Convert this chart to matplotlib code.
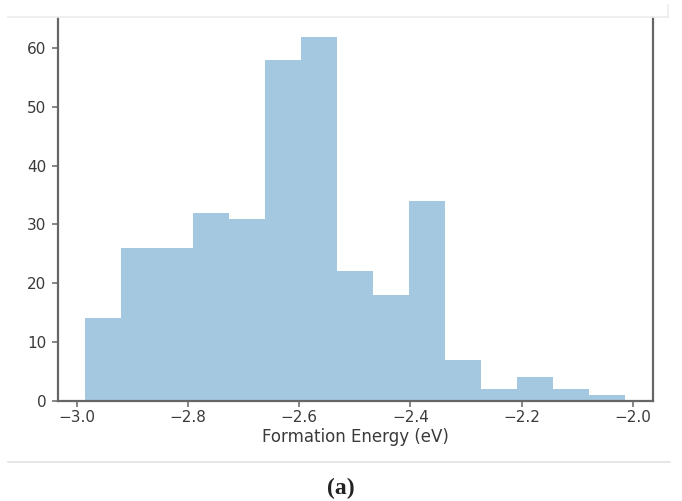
import numpy as np
import matplotlib
matplotlib.use("Agg")
import matplotlib.pyplot as plt
from matplotlib.lines import Line2D

# Histogram of formation energies: 15 equal-width bins
e_min, e_max = -2.985, -2.0135
counts = [14, 26, 26, 32, 31, 58, 62, 22, 18, 34, 7, 2, 4, 2, 1]
x_ticks = [-3.0, -2.8, -2.6, -2.4, -2.2, -2.0]
y_ticks = [0, 10, 20, 30, 40, 50, 60]
x_label = "Formation Energy (eV)"
caption = "(a)"

edges = np.linspace(e_min, e_max, len(counts) + 1)
centers = (edges[:-1] + edges[1:]) / 2

W, H = 682, 501
fig = plt.figure(figsize=(W / 100, H / 100), dpi=100)
ax = fig.add_axes([58 / W, 1 - 400.7 / H, (652.5 - 58) / W, (400.7 - 18.3) / H])

ax.hist(centers, bins=edges, weights=counts, color="#1f77b4", alpha=0.4)

spine_col = "#666666"
ax.spines["top"].set_visible(False)
for side in ("left", "right", "bottom"):
    ax.spines[side].set_color(spine_col)
    ax.spines[side].set_linewidth(1.6)

ax.set_xticks(x_ticks)
ax.set_xticklabels([f"\u2212{abs(v):.1f}" for v in x_ticks])
ax.set_yticks(y_ticks)
ax.tick_params(axis="both", colors=spine_col, labelcolor="#3a3a3a",
               labelsize=11, length=4, width=1.1, pad=4.5)
ax.tick_params(axis="x", pad=3)
ax.set_xlabel(x_label, fontsize=12, color="#3a3a3a", labelpad=2)

# page framing lines around the figure panel
fig.add_artist(Line2D([8 / W, 668 / W], [1 - 17 / H, 1 - 17 / H],
                      color="#ececec", lw=1.2))
fig.add_artist(Line2D([668 / W, 668 / W], [1 - 5 / H, 1 - 17 / H],
                      color="#ececec", lw=1.2))
fig.add_artist(Line2D([8 / W, 670 / W], [1 - 462 / H, 1 - 462 / H],
                      color="#e2e2e2", lw=1.2))

fig.text(341 / W, 1 - 488 / H, caption, ha="center", va="center",
         fontsize=17, fontweight="bold", family="Liberation Serif",
         color="#222222")

fig.savefig("out.png", dpi=100)
